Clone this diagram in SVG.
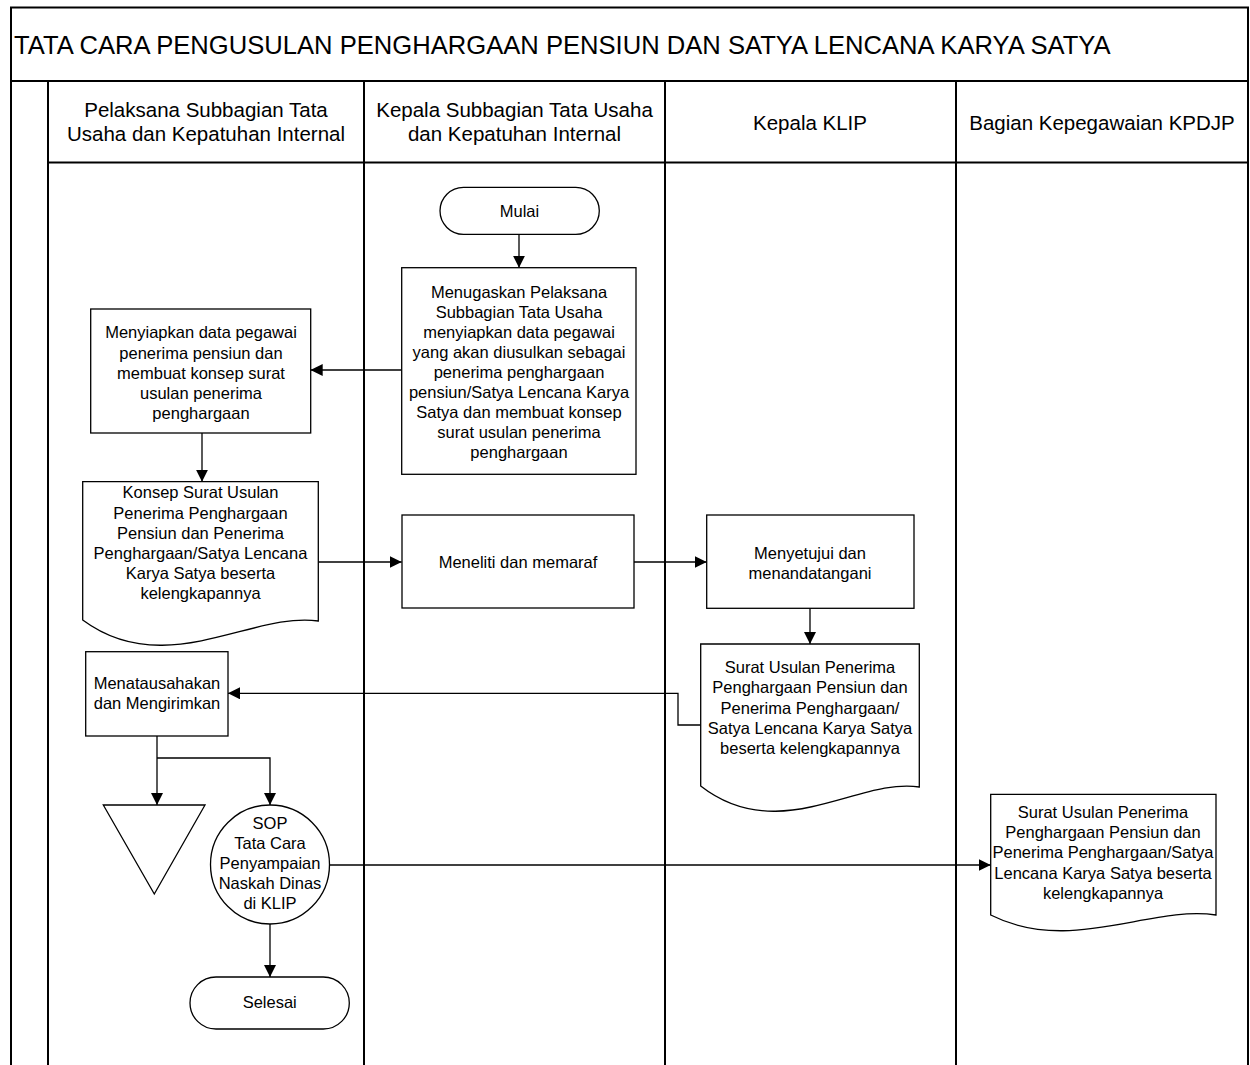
<svg xmlns="http://www.w3.org/2000/svg" width="1250" height="1065" viewBox="0 0 1250 1065">
<style>
text{font-family:"Liberation Sans",Arial,sans-serif;fill:#000;text-anchor:middle}
.t{font-size:16.5px}
.h{font-size:20.5px}
.title{font-size:25.6px;text-anchor:start}
.n{fill:#fff;stroke:#000;stroke-width:1.3}
.frame{fill:none;stroke:#000;stroke-width:2}
.c{fill:none;stroke:#000;stroke-width:1.3}
</style>
<defs>
<marker id="ah" markerUnits="userSpaceOnUse" markerWidth="12" markerHeight="12" refX="12" refY="6" orient="auto">
<path d="M0,0 L12,6 L0,12 z" fill="#000"/>
</marker>
</defs>
<rect width="1250" height="1065" fill="#fff"/>
<g id="frame">
<path class="frame" d="M11,1065 V7.5 H1248 V1065"/>
<path class="frame" d="M11,81 H1248" stroke-width="3"/>
<path class="frame" d="M48,81 V1065 M364,81 V1065 M665,81 V1065 M956,81 V1065"/>
<path class="frame" d="M48,162.5 H1248"/>
<text class="title" x="14" y="54">TATA CARA PENGUSULAN PENGHARGAAN PENSIUN DAN SATYA LENCANA KARYA SATYA</text>
<text class="h" x="206" y="117">Pelaksana Subbagian Tata</text>
<text class="h" x="206" y="141">Usaha dan Kepatuhan Internal</text>
<text class="h" x="514.5" y="117">Kepala Subbagian Tata Usaha</text>
<text class="h" x="514.5" y="141">dan Kepatuhan Internal</text>
<text class="h" x="810" y="130">Kepala KLIP</text>
<text class="h" x="1102" y="130">Bagian Kepegawaian KPDJP</text>
</g>
<g id="connectors">
<path class="c" d="M519,234 V267.7" marker-end="url(#ah)"/>
<path class="c" d="M401.7,370 H310.7" marker-end="url(#ah)"/>
<path class="c" d="M202,433 V481.7" marker-end="url(#ah)"/>
<path class="c" d="M318.3,562 H401.7" marker-end="url(#ah)"/>
<path class="c" d="M634,562 H706.7" marker-end="url(#ah)"/>
<path class="c" d="M810,608.3 V644" marker-end="url(#ah)"/>
<path class="c" d="M700.7,725 H678 V693.3 H228" marker-end="url(#ah)"/>
<path class="c" d="M157,736 V805" marker-end="url(#ah)"/>
<path class="c" d="M157,758 H270 V805" marker-end="url(#ah)"/>
<path class="c" d="M270,924 V977" marker-end="url(#ah)"/>
<path class="c" d="M329.5,865 H990.7" marker-end="url(#ah)"/>
</g>
<g id="mulai">
<rect class="n" x="440" y="187.3" width="159.3" height="47" rx="23.5"/>
<text class="t" x="519.5" y="217">Mulai</text>
</g>
<g id="menugaskan">
<rect class="n" x="401.7" y="267.7" width="234.3" height="206.6"/>
<text class="t" x="519" y="297.5">Menugaskan Pelaksana</text>
<text class="t" x="519" y="317.5">Subbagian Tata Usaha</text>
<text class="t" x="519" y="337.5">menyiapkan data pegawai</text>
<text class="t" x="519" y="357.5">yang akan diusulkan sebagai</text>
<text class="t" x="519" y="377.5">penerima penghargaan</text>
<text class="t" x="519" y="397.5">pensiun/Satya Lencana Karya</text>
<text class="t" x="519" y="417.5">Satya dan membuat konsep</text>
<text class="t" x="519" y="437.5">surat usulan penerima</text>
<text class="t" x="519" y="457.5">penghargaan</text>
</g>
<g id="menyiapkan">
<rect class="n" x="90.7" y="309" width="220" height="124"/>
<text class="t" x="201" y="338">Menyiapkan data pegawai</text>
<text class="t" x="201" y="358.5">penerima pensiun dan</text>
<text class="t" x="201" y="378.5">membuat konsep surat</text>
<text class="t" x="201" y="398.5">usulan penerima</text>
<text class="t" x="201" y="418.5">penghargaan</text>
</g>
<g id="konsep">
<path class="n" d="M82.7,481.7 H318.3 V621 C 253,611 165,681 82.7,620 Z"/>
<text class="t" x="200.5" y="498">Konsep Surat Usulan</text>
<text class="t" x="200.5" y="518.5">Penerima Penghargaan</text>
<text class="t" x="200.5" y="538.5">Pensiun dan Penerima</text>
<text class="t" x="200.5" y="558.5">Penghargaan/Satya Lencana</text>
<text class="t" x="200.5" y="578.5">Karya Satya beserta</text>
<text class="t" x="200.5" y="598.5">kelengkapannya</text>
</g>
<g id="meneliti">
<rect class="n" x="402" y="515" width="232" height="93"/>
<text class="t" x="518" y="568">Meneliti dan memaraf</text>
</g>
<g id="menyetujui">
<rect class="n" x="706.7" y="515" width="207.3" height="93.3"/>
<text class="t" x="810" y="558.5">Menyetujui dan</text>
<text class="t" x="810" y="579">menandatangani</text>
</g>
<g id="surat-usulan-klip">
<path class="n" d="M700.7,644 H919.3 V787 C 859,777 779,847 700.7,786 Z"/>
<text class="t" x="810" y="672.5">Surat Usulan Penerima</text>
<text class="t" x="810" y="693">Penghargaan Pensiun dan</text>
<text class="t" x="810" y="713.5">Penerima Penghargaan/</text>
<text class="t" x="810" y="734">Satya Lencana Karya Satya</text>
<text class="t" x="810" y="754">beserta kelengkapannya</text>
</g>
<g id="menatausahakan">
<rect class="n" x="85.7" y="651.7" width="142.3" height="84.3"/>
<text class="t" x="157" y="689.3">Menatausahakan</text>
<text class="t" x="157" y="709.3">dan Mengirimkan</text>
</g>
<g id="arsip">
<path class="n" d="M103.3,805 H205 L154.3,894 Z"/>
</g>
<g id="sop">
<circle class="n" cx="270" cy="864.5" r="59.5"/>
<text class="t" x="270" y="829.3">SOP</text>
<text class="t" x="270" y="849.3">Tata Cara</text>
<text class="t" x="270" y="869.3">Penyampaian</text>
<text class="t" x="270" y="889.3">Naskah Dinas</text>
<text class="t" x="270" y="909.3">di KLIP</text>
</g>
<g id="selesai">
<rect class="n" x="190" y="977" width="159.3" height="52" rx="26"/>
<text class="t" x="269.7" y="1008">Selesai</text>
</g>
<g id="surat-usulan-kpdjp">
<path class="n" d="M990.7,794.3 H1216 V915 C 1150,905 1070,955 990.7,915 Z"/>
<text class="t" x="1103" y="817.7">Surat Usulan Penerima</text>
<text class="t" x="1103" y="837.7">Penghargaan Pensiun dan</text>
<text class="t" x="1103" y="857.7">Penerima Penghargaan/Satya</text>
<text class="t" x="1103" y="878.7">Lencana Karya Satya beserta</text>
<text class="t" x="1103" y="898.7">kelengkapannya</text>
</g>
</svg>
